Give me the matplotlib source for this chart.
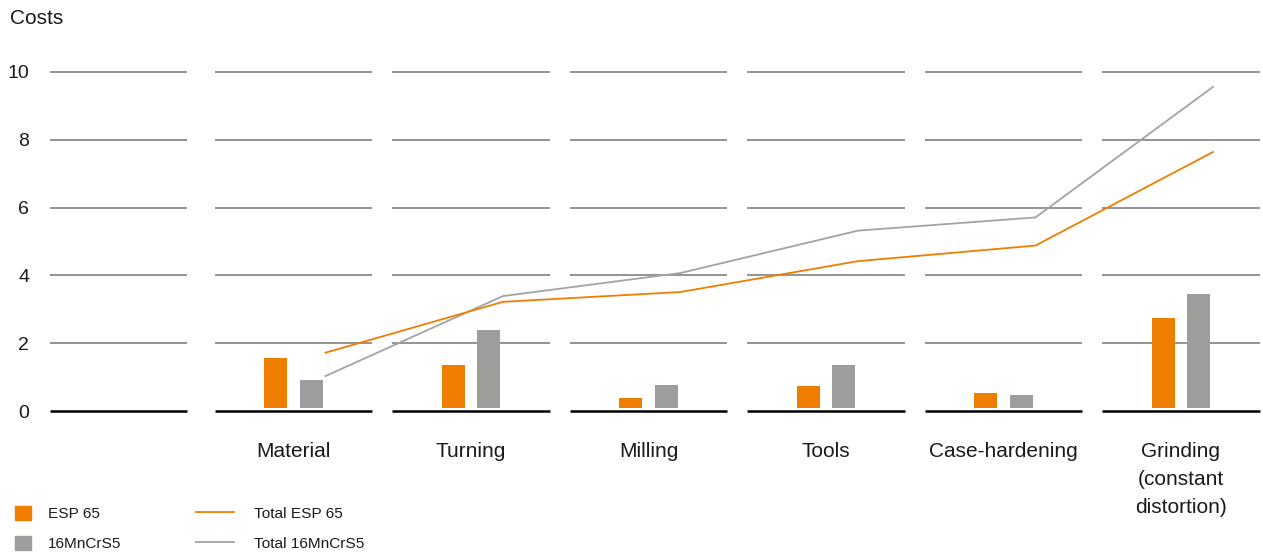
import matplotlib
matplotlib.use("Agg")
import matplotlib.pyplot as plt
from matplotlib.patches import Patch
from matplotlib.lines import Line2D
import numpy as np

plt.rcParams['font.family'] = ['Liberation Sans', 'DejaVu Sans']

categories = ["Material", "Turning", "Milling", "Tools", "Case-hardening",
              "Grinding\n(constant\ndistortion)"]
esp65 = [1.56, 1.36, 0.38, 0.74, 0.53, 2.74]
mncrs5 = [0.91, 2.39, 0.77, 1.36, 0.47, 3.45]
total_esp65 = [1.72, 3.22, 3.51, 4.42, 4.88, 7.64]
total_mncrs5 = [1.03, 3.39, 4.07, 5.32, 5.71, 9.56]
yticks = [0, 2, 4, 6, 8, 10]

ORANGE = '#EF7D00'
GRAY_BAR = '#9D9D9C'
GRAY_LINE = '#A3A3A3'
GRID = '#777777'
TXT = '#1a1a1a'

W, H = 1263, 552
fig = plt.figure(figsize=(W / 100, H / 100), dpi=100)
ax_l, ax_r = 50, 1260
y0_px, y10_px = 411, 72
ax = fig.add_axes([ax_l / W, (H - y0_px) / H, (ax_r - ax_l) / W, (y0_px - y10_px) / H])

# x mapping: pixel = 293.5 + (x-1)*177.5
step = 177.5
xl = 1 + (ax_l - 293.5) / step
xr = 1 + (ax_r - 293.5) / step
ax.set_xlim(xl, xr)
ax.set_ylim(0, 10)
for s in ax.spines.values():
    s.set_visible(False)

xs = np.arange(1, len(categories) + 1)

# segmented gridlines
segments = [(xl, 1 + (187 - 293.5) / step)] + [(i - 0.445, i + 0.445) for i in xs]
for yv in yticks:
    for a, b in segments:
        if yv == 0:
            ax.plot([a, b], [yv, yv], color='black', lw=1.8, solid_capstyle='butt',
                    clip_on=False, zorder=1)
        else:
            ax.plot([a, b], [yv, yv], color=GRID, lw=1.1, solid_capstyle='butt',
                    clip_on=False, zorder=1)

gap = 0.09
bw = 0.13
ax.bar(xs - 0.1, np.array(esp65) - gap, bottom=gap, width=bw, color=ORANGE, zorder=2)
ax.bar(xs + 0.1, np.array(mncrs5) - gap, bottom=gap, width=bw, color=GRAY_BAR, zorder=2)

ax.plot(xs + 0.18, total_mncrs5, color=GRAY_LINE, lw=1.3, zorder=3, clip_on=False)
ax.plot(xs + 0.18, total_esp65, color=ORANGE, lw=1.3, zorder=4, clip_on=False)

ax.set_yticks(yticks)
ax.set_yticklabels([str(v) for v in yticks], fontsize=14, color=TXT)
ax.tick_params(axis='y', length=0, pad=15)

ax.set_xticks(xs)
ax.set_xticklabels(categories, fontsize=15, color=TXT, linespacing=1.62)
for lab in ax.get_xticklabels():
    lab.set_linespacing(1.62)
ax.tick_params(axis='x', length=0, pad=22)

fig.text(10 / W, 1 - 18 / H, "Costs", fontsize=15, color=TXT, va='center', ha='left')

h1 = [Patch(color=ORANGE, label='ESP 65'), Patch(color=GRAY_BAR, label='16MnCrS5')]
leg1 = fig.legend(handles=h1, loc='upper left', bbox_to_anchor=(9 / W, 1 - 500 / H),
                  frameon=False, fontsize=11.1, handlelength=1.03, handleheight=1.03,
                  handletextpad=1.1, labelspacing=0.95, borderaxespad=0, borderpad=0.4)
for t in leg1.get_texts():
    t.set_color(TXT)
h2 = [Line2D([], [], color=ORANGE, lw=1.3, label='Total ESP 65'),
      Line2D([], [], color=GRAY_LINE, lw=1.3, label='Total 16MnCrS5')]
leg2 = fig.legend(handles=h2, loc='upper left', bbox_to_anchor=(190 / W, 1 - 500 / H),
                  frameon=False, fontsize=11.1, handlelength=2.45, handleheight=1.03,
                  handletextpad=1.3, labelspacing=0.95, borderaxespad=0, borderpad=0.4)
for t in leg2.get_texts():
    t.set_color(TXT)

fig.savefig("out.png", dpi=100)
